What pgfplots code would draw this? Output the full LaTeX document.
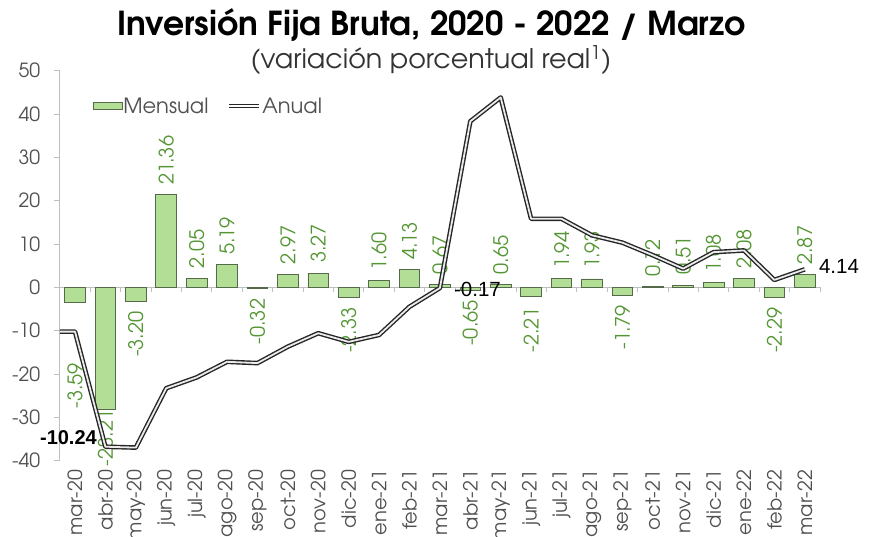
\documentclass[border=0pt]{standalone}
\usepackage{pgfplots}
\pgfplotsset{compat=1.18}
\usepackage{pgfplotstable}
\usepackage{fontspec}
\setmainfont{TeX Gyre Adventor}
\newfontfamily\arialf{Liberation Sans}
\definecolor{barfill}{RGB}{178,222,150}
\definecolor{baredge}{RGB}{85,105,75}
\definecolor{lblgreen}{RGB}{84,150,52}
\definecolor{tickgray}{RGB}{80,80,80}
\definecolor{axgray}{RGB}{191,191,191}

\pgfplotstableread{
x m a
0 -3.59 -10.24
1 -28.21 -36.8
2 -3.20 -37.0
3 21.36 -23.3
4 2.05 -20.8
5 5.19 -17.2
6 -0.32 -17.5
7 2.97 -13.7
8 3.27 -10.6
9 -2.33 -12.6
10 1.60 -11.0
11 4.13 -4.5
12 0.67 -0.17
13 -0.65 38.3
14 0.65 43.8
15 -2.21 15.8
16 1.94 15.8
17 1.93 12.0
18 -1.79 10.3
19 0.12 7.4
20 0.51 4.3
21 1.08 8.1
22 2.08 8.5
23 -2.29 1.7
24 2.87 4.14
}\data

% annual series as drawn (the line enters flat from the left edge of the plot)
\pgfplotstableread{
x a
-0.5 -10.24
0 -10.24
1 -36.8
2 -37.0
3 -23.3
4 -20.8
5 -17.2
6 -17.5
7 -13.7
8 -10.6
9 -12.6
10 -11.0
11 -4.5
12 -0.17
13 38.3
14 43.8
15 15.8
16 15.8
17 12.0
18 10.3
19 7.4
20 4.3
21 8.1
22 8.5
23 1.7
24 4.14
}\anual

\begin{document}
\begin{tikzpicture}
\useasboundingbox (0,0) rectangle (869pt,537pt);
\node[font=\fontsize{33}{36}\bfseries\selectfont] at (431.5pt,512pt) {Inversión Fija Bruta, 2020 - 2022 / Marzo};
\node[font=\fontsize{27}{30}\selectfont, text=black!80] at (431pt,477pt) {(variación porcentual real\textsuperscript{1})};
\begin{axis}[
  at={(59.8pt,76.4pt)}, anchor=south west,
  scale only axis, width=760.2pt, height=390pt,
  xmin=-0.5, xmax=24.5, ymin=-40, ymax=50,
  clip=false, clip marker paths=true,
  axis x line*=bottom, axis y line*=left, axis line style={-},
  x axis line style={draw=none},
  y axis line style={axgray, line width=0.8pt},
  xtick={0,...,24},
  xticklabels={mar-20,abr-20,may-20,jun-20,jul-20,ago-20,sep-20,oct-20,nov-20,dic-20,ene-21,feb-21,mar-21,abr-21,may-21,jun-21,jul-21,ago-21,sep-21,oct-21,nov-21,dic-21,ene-22,feb-22,mar-22},
  ytick={-40,-30,...,50},
  tick align=outside,
  major x tick style={draw=none},
  major y tick style={axgray, line width=0.8pt},
  major tick length=6pt,
  /pgf/number format/assume math mode=true,
  yticklabel style={font=\fontsize{19.5}{22}\selectfont, text=tickgray, xshift=-10pt},
  xticklabel style={rotate=90, anchor=east, font=\fontsize{19.5}{22}\selectfont, text=tickgray},
  legend style={at={(0.043,0.909)}, anchor=west, draw=none, fill=none, inner sep=0pt,
    font=\fontsize{21}{24}\selectfont, text=tickgray,
    nodes={inner xsep=1pt},
    /tikz/every even column/.append style={column sep=18pt}},
  legend columns=2,
]
\draw[axgray, line width=1pt] (axis cs:-0.5,0) -- (axis cs:24.5,0);
\pgfplotsinvokeforeach{-0.5,0.5,...,24.5}{\draw[axgray, line width=0.8pt] (axis cs:#1,0) -- ++(0pt,-5pt);}

\addplot[ybar, bar width=0.68, bar shift=0pt, fill=barfill, draw=baredge, line width=0.8pt,
  legend image code/.code={\draw[fill=barfill,draw=baredge,line width=0.6pt] (0pt,-3.5pt) rectangle (29pt,3.5pt);}]
  table[x=x,y=m]{\data};
\addlegendentry{Mensual}

% monthly labels, positive
\addplot[draw=none, forget plot, nodes near coords, point meta=explicit symbolic,
  restrict y to domain=0:100,
  every node near coord/.style={font=\fontsize{20}{24}\selectfont, text=lblgreen, rotate=90, anchor=west, inner xsep=10pt, inner ysep=0pt}]
  table[x=x,y=m,meta=m]{\data};
% monthly labels, negative (general)
\addplot[draw=none, forget plot, nodes near coords, point meta=explicit symbolic,
  restrict y to domain=-100:0, restrict x to domain=1.5:30,
  every node near coord/.style={font=\fontsize{20}{24}\selectfont, text=lblgreen, rotate=90, anchor=east, inner xsep=10pt, inner ysep=0pt}]
  table[x=x,y=m,meta=m]{\data};
% mar-20 label
\addplot[draw=none, forget plot, nodes near coords, point meta=explicit symbolic,
  restrict x to domain=-0.5:0.5,
  every node near coord/.style={font=\fontsize{20}{24}\selectfont, text=lblgreen, yshift=-60pt, rotate=90, anchor=east, inner sep=0pt}]
  table[x=x,y=m,meta=m]{\data};
% abr-20 label
\addplot[draw=none, forget plot, nodes near coords, point meta=explicit symbolic,
  restrict x to domain=0.5:1.5,
  every node near coord/.style={font=\fontsize{20}{24}\selectfont, text=lblgreen, rotate=90, anchor=east, inner sep=0pt}]
  table[x=x,y=m,meta=m]{\data};

\addplot[draw=black!85, line width=1.4pt, double=white!92!black, double distance=1.8pt, mark=none, line join=round,
  legend image code/.code={\draw[draw=black!85, line width=1.2pt, double=white, double distance=1.4pt] (0pt,0pt) -- (30pt,0pt);}]
  table[x=x,y=a]{\anual};
\addlegendentry{Anual}

% annual labels
\addplot[draw=none, forget plot, nodes near coords, point meta=explicit symbolic,
  restrict x to domain=-0.2:0.2,
  every node near coord/.style={font=\arialf\bfseries\fontsize{20}{24}\selectfont, text=black, anchor=east, inner sep=0pt, xshift=22pt, yshift=-106pt}]
  table[x=x,y=a,meta=a]{\data};
\addplot[draw=none, forget plot, nodes near coords, point meta=explicit symbolic,
  restrict x to domain=11.5:12.5,
  every node near coord/.style={font=\arialf\fontsize{20.5}{24}\selectfont, text=black, anchor=west, inner sep=0pt, xshift=14pt, yshift=-1.5pt}]
  table[x=x,y=a,meta=a]{\data};
\addplot[draw=none, forget plot, nodes near coords, point meta=explicit symbolic,
  restrict x to domain=23.5:24.5,
  every node near coord/.style={font=\arialf\fontsize{20.5}{24}\selectfont, text=black, anchor=west, inner sep=0pt, xshift=14pt, yshift=3pt}]
  table[x=x,y=a,meta=a]{\data};
\end{axis}
\end{tikzpicture}
\end{document}
